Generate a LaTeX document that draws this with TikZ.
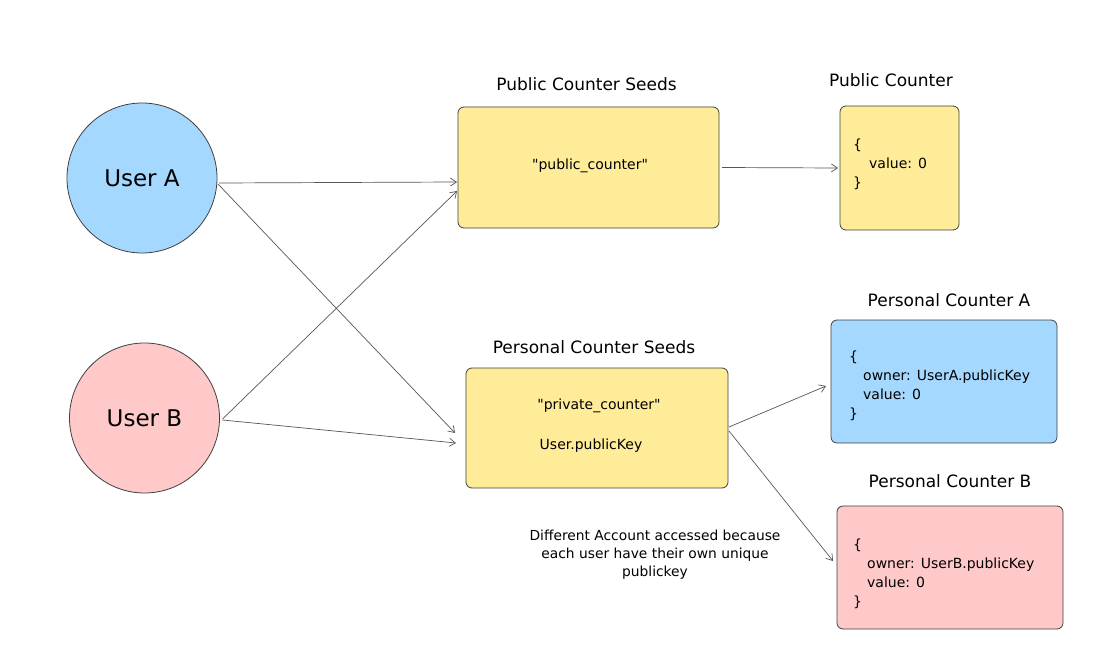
\documentclass[tikz,border=0pt]{standalone}
\usepackage{fontspec}
\setmainfont{DejaVu Sans}
\usetikzlibrary{arrows.meta,calc}
\definecolor{yel}{HTML}{FFEC99}
\definecolor{blu}{HTML}{A5D8FF}
\definecolor{pnk}{HTML}{FFC9C9}
\definecolor{ink}{HTML}{1E1E1E}
\tikzset{
  card/.style={draw=ink!85, line width=0.8pt, rounded corners=6pt, inner sep=0pt, outer sep=0pt},
  user/.style={circle, draw=ink!85, line width=0.8pt, minimum size=150pt, inner sep=0pt, outer sep=0pt, font=\fontsize{23}{27}\selectfont},
  title/.style={font=\fontsize{17}{20}\selectfont, inner sep=0pt},
  body/.style={font=\fontsize{14}{19}\selectfont, inner sep=0pt},
  link/.style={draw=ink!75, line width=0.7pt, -{Straight Barb[length=6pt,width=8pt]}}
}
\begin{document}
\begin{tikzpicture}[x=1pt,y=-1pt]
\useasboundingbox[fill=white] (0,0) rectangle (1119,666);

% users
\node[user, fill=blu] (ua) at (142,178) {User A};
\node[user, fill=pnk] (ub) at (144.5,418) {User B};

% public seeds
\node[card, fill=yel, minimum width=261pt, minimum height=121pt] (pubseeds) at (588.5,167.5) {};
\node[title] (pubseedsT) at (586.5,84) {Public Counter Seeds};
\node[body] (pubtxt) at (590,166) {\textquotedbl public\_counter\textquotedbl};

% public counter
\node[card, fill=yel, minimum width=119pt, minimum height=124pt] (pubctr) at (899.5,168) {};
\node[title] (pubctrT) at (891,80) {Public Counter};
\node[body, align=left, anchor=west] (pubctrTxt) at (853,164.5) {\{\\\hspace*{16pt}value: 0\\\}};

% personal seeds
\node[card, fill=yel, minimum width=262pt, minimum height=120pt] (perseeds) at (597,428) {};
\node[title] (perseedsT) at (594,347) {Personal Counter Seeds};
\node[body] (privtxt) at (599,406) {\textquotedbl private\_counter\textquotedbl};
\node[body] (userpk) at (591,446) {User.publicKey};

% personal counter A
\node[card, fill=blu, minimum width=226pt, minimum height=123pt] (pca) at (944,381.5) {};
\node[title] (pcaT) at (949,300) {Personal Counter A};
\node[body, align=left, anchor=west] (pcaTxt) at (849,385.5) {\{\\\hspace*{14pt}owner: UserA.publicKey\\\hspace*{14pt}value: 0\\\}};

% personal counter B
\node[card, fill=pnk, minimum width=226pt, minimum height=123pt] (pcb) at (950,567.5) {};
\node[title] (pcbT) at (950,481) {Personal Counter B};
\node[body, align=left, anchor=west] (pcbTxt) at (853,574) {\{\\\hspace*{14pt}owner: UserB.publicKey\\\hspace*{14pt}value: 0\\\}};

% note
\node[body, align=center, font=\fontsize{13.8}{18}\selectfont] (note) at (655,555) {Different Account accessed because\\each user have their own unique\\publickey};

% connectors
\draw[link] ([xshift=2pt,yshift=-5pt]ua.east) -- ([xshift=-1pt,yshift=-14.5pt]pubseeds.west);
\draw[link] ([xshift=1pt,yshift=-6pt]ua.east) -- ([xshift=-11pt,yshift=-5pt]perseeds.west);
\draw[link] ([xshift=3pt,yshift=-1pt]ub.east) -- ([xshift=-1pt,yshift=-23.5pt]pubseeds.west);
\draw[link] ([xshift=3pt,yshift=-2pt]ub.east) -- ([xshift=-10pt,yshift=-15pt]perseeds.west);
\draw[link] ([xshift=3pt]pubseeds.east) -- ([xshift=-2pt]pubctr.west);
\draw[link] ([xshift=1pt,yshift=1pt]perseeds.east) -- ([xshift=-5pt,yshift=-4.5pt]pca.west);
\draw[link] ([xshift=1pt,yshift=-3pt]perseeds.east) -- ([xshift=-4pt,yshift=6.5pt]pcb.west);
\end{tikzpicture}
\end{document}
